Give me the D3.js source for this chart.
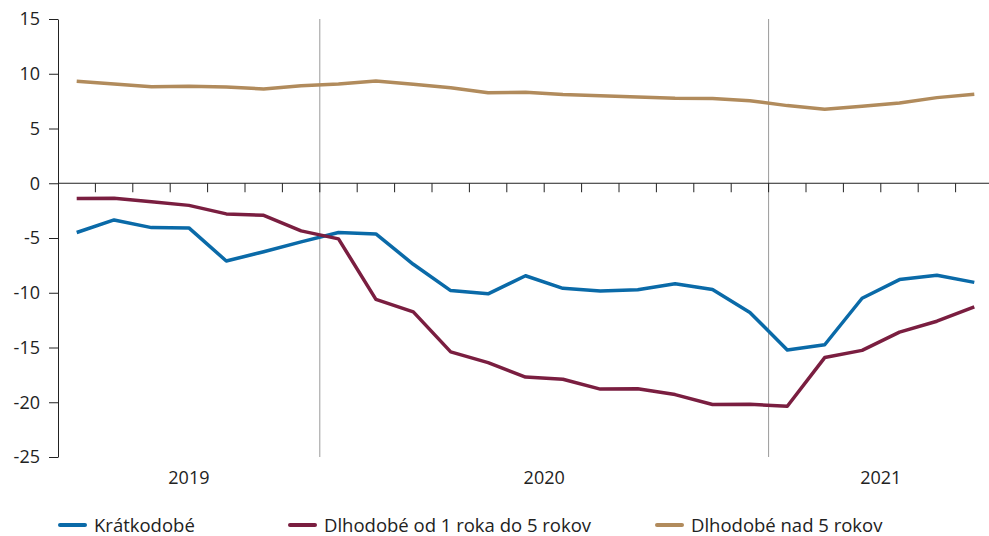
<!DOCTYPE html>
<html>
<head>
<meta charset="utf-8">
<script src="https://cdn.jsdelivr.net/npm/d3@7"></script>
<style>
  body { margin: 0; background: #fff; }
  text { font-family: "Open Sans", "Noto Sans", sans-serif; fill: #222; }
</style>
</head>
<body>
<div id="canvas"></div>
<script>
"use strict"

// months June 2019 - June 2021
let months = ["2019-06", "2019-07", "2019-08", "2019-09", "2019-10", "2019-11", "2019-12",
    "2020-01", "2020-02", "2020-03", "2020-04", "2020-05", "2020-06", "2020-07", "2020-08",
    "2020-09", "2020-10", "2020-11", "2020-12",
    "2021-01", "2021-02", "2021-03", "2021-04", "2021-05", "2021-06"];

let years = ["2019", "2020", "2021"];
let yTicks = [-25, -20, -15, -10, -5, 0, 5, 10, 15];

let kratkodobe = [-4.5, -3.35, -4.05, -4.08, -7.1, -6.25, -5.35, -4.5, -4.63, -7.4, -9.8, -10.1,
    -8.45, -9.6, -9.84, -9.72, -9.18, -9.7, -11.8, -15.22, -14.75, -10.5, -8.8, -8.4, -9.05];
let dlhodobe1do5 = [-1.4, -1.38, -1.68, -2.02, -2.8, -2.93, -4.35, -5.08, -10.6, -11.75, -15.4, -16.38,
    -17.7, -17.9, -18.8, -18.76, -19.3, -20.2, -20.18, -20.37, -15.92, -15.26, -13.6, -12.6, -11.3];
let dlhodobeNad5 = [9.31, 9.07, 8.82, 8.86, 8.8, 8.61, 8.91, 9.07, 9.34, 9.04, 8.73, 8.27,
    8.31, 8.1, 8.0, 7.88, 7.76, 7.73, 7.54, 7.09, 6.76, 7.03, 7.33, 7.82, 8.13];

let seriesNames = ["Krátkodobé", "Dlhodobé od 1 roka do 5 rokov", "Dlhodobé nad 5 rokov"];
let seriesColors = ["#0a6aa8", "#7a1e40", "#b18b5c"];
let seriesValues = [kratkodobe, dlhodobe1do5, dlhodobeNad5];

let drawing = d3.select("#canvas")
    .append("svg")
    .attr("width", 989)
    .attr("height", 536);

let x = d3.scaleBand()
    .domain(months)
    .range([58, 993])
    .padding(0);

let y = d3.scaleLinear()
    .domain([-25, 15])
    .range([457, 19]);

// year divider lines
let dividers = years.slice(1).map(yr => months.find(m => m.startsWith(yr)));
drawing.selectAll(".divider")
    .data(dividers)
    .enter()
    .append("line")
    .attr("x1", d => x(d))
    .attr("x2", d => x(d))
    .attr("y1", y(15))
    .attr("y2", y(-25))
    .attr("stroke", "#9a9a9a")
    .attr("stroke-width", 1);

// y axis (plain hyphen for negatives like the original)
let yAxis = drawing.append("g")
    .attr("transform", "translate(58,0)")
    .call(d3.axisLeft(y).tickValues(yTicks).tickFormat(d => String(d))
        .tickSize(9).tickSizeOuter(0).tickPadding(9));
yAxis.select(".domain").attr("stroke", "#222");
yAxis.selectAll(".tick line").attr("stroke", "#222");
yAxis.selectAll("text")
    .style("font-size", "18px")
    .style("font-family", "'Open Sans', sans-serif")
    .attr("fill", "#222");

// x axis line at zero with month ticks at band edges
drawing.append("line")
    .attr("x1", 58)
    .attr("x2", 989)
    .attr("y1", y(0))
    .attr("y2", y(0))
    .attr("stroke", "#222")
    .attr("stroke-width", 1);

drawing.selectAll(".mtick")
    .data(months.slice(1))
    .enter()
    .append("line")
    .attr("x1", d => x(d))
    .attr("x2", d => x(d))
    .attr("y1", y(0))
    .attr("y2", y(0) + 9)
    .attr("stroke", "#222")
    .attr("stroke-width", 1);

// year labels centred under each year's months
drawing.selectAll(".year")
    .data(years)
    .enter()
    .append("text")
    .attr("x", yr => {
        let ms = months.filter(m => m.startsWith(yr));
        return (x(ms[0]) + x(ms[ms.length - 1]) + x.bandwidth()) / 2;
    })
    .attr("y", 484)
    .attr("text-anchor", "middle")
    .style("font-size", "18px")
    .text(d => d);

// series lines
let line = d3.line()
    .x((d, i) => x(months[i]) + x.bandwidth() / 2)
    .y(d => y(d));

seriesValues.forEach((vals, i) => {
    drawing.append("path")
        .datum(vals)
        .attr("d", line)
        .attr("fill", "none")
        .attr("stroke", seriesColors[i])
        .attr("stroke-width", 3.5)
        .attr("stroke-linejoin", "round");
});

// legend
let legendX = [60, 290, 657];
let legend = drawing.selectAll(".legend")
    .data(seriesNames)
    .enter()
    .append("g")
    .attr("transform", (d, i) => "translate(" + legendX[i] + ",525)");

legend.append("line")
    .attr("x1", 0)
    .attr("x2", 25)
    .attr("y1", 0)
    .attr("y2", 0)
    .attr("stroke", (d, i) => seriesColors[i])
    .attr("stroke-width", 4)
    .attr("stroke-linecap", "round");

legend.append("text")
    .attr("x", 34)
    .attr("y", 7)
    .style("font-size", "18.5px")
    .text(d => d);
</script>
</body>
</html>
